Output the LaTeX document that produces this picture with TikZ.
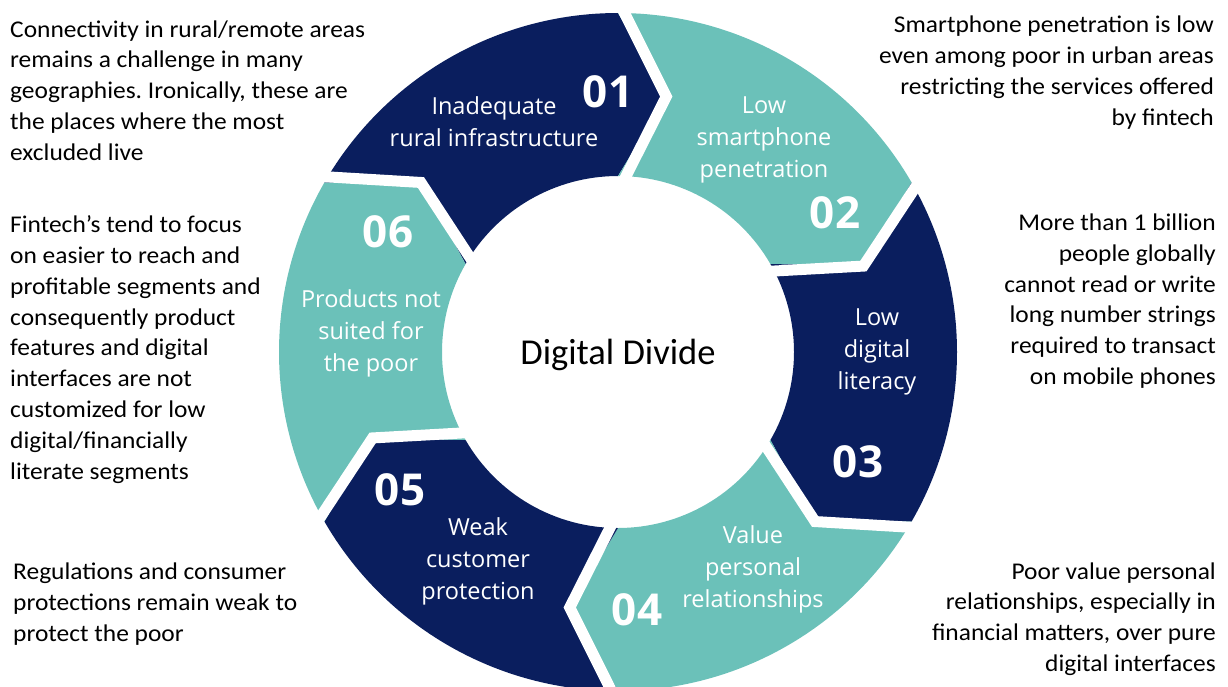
\documentclass[tikz,border=0pt]{standalone}
\usepackage{fontspec}
\setmainfont{Carlito}
\newfontfamily\sidefont[FakeStretch=1.06]{Carlito}
\newfontfamily\segfont{Open Sans}
\usetikzlibrary{calc}
\definecolor{segdark}{HTML}{0A1E5E}
\definecolor{seglight}{HTML}{6BC1B9}
\newcommand\ringseg[2]{%
  \pgfmathsetmacro\aend{#1-60}%
  \fill[#2] ($(C)+(#1:339pt)$) arc[start angle=#1, end angle=\aend, radius=339pt]
    -- ($(C)+(\aend-10.7:260pt)$) -- ($(C)+(\aend:176pt)$)
    arc[start angle=\aend, end angle=#1, radius=176pt]
    -- ($(C)+(#1-10.7:260pt)$) -- cycle;}
\newcommand\ringgap[1]{%
  \draw[gapline] ($(C)+(#1:352pt)$) -- ($(C)+(#1-10.7:260pt)$) -- ($(C)+(#1:160pt)$);}
\tikzset{
  gapline/.style={white, line width=11pt, line join=miter},
  seglabel/.style={text=white, align=center, inner sep=0pt, font=\segfont\fontsize{23.5}{32}\selectfont},
  segnum/.style={text=white, inner sep=0pt, font=\segfont\bfseries\fontsize{44}{44}\selectfont},
  sidetext/.style={text=black, inner sep=0pt, font=\sidefont\frenchspacing\fontsize{24}{30.8}\selectfont},
}
\begin{document}
\begin{tikzpicture}[x=1pt,y=1pt]
\useasboundingbox (0,0) rectangle (1228,-686);
\coordinate (C) at (618,-352);
\ringseg{150}{segdark}
\ringseg{90}{seglight}
\ringseg{30}{segdark}
\ringseg{-30}{seglight}
\ringseg{-90}{segdark}
\ringseg{-150}{seglight}
\foreach \a in {150,90,30,-30,-90,-150} {\ringgap{\a}}
% numbers
\node[segnum] (n1) at (608,-92) {01};
\node[segnum] (n2) at (835,-213) {02};
\node[segnum] (n3) at (858,-462) {03};
\node[segnum] (n4) at (637,-610) {04};
\node[segnum] (n5) at (400,-490) {05};
\node[segnum] (n6) at (388,-232) {06};
% labels
\node[seglabel] (l1) at (494,-122) {Inadequate\\rural infrastructure};
\node[seglabel] (l2) at (764,-140) {Low\\smartphone\\penetration};
\node[seglabel] (l3) at (877,-352) {Low\\digital\\literacy};
\node[seglabel] (l4) at (753,-569) {Value\\personal\\relationships};
\node[seglabel] (l5) at (478,-561) {Weak\\customer\\protection};
\node[seglabel] (l6) at (371,-333) {Products not\\suited for\\the poor};
\node[inner sep=0pt, font=\fontsize{36.5}{40}\selectfont] (dd) at (618,-355) {Digital Divide};
% side texts
\node[sidetext, anchor=west, align=left] (t1) at (10,-90.5) {Connectivity in rural/remote areas\\remains a challenge in many\\geographies. Ironically, these are\\the places where the most\\excluded live};
\node[sidetext, anchor=west, align=left] (t6) at (10,-349.5) {Fintech’s tend to focus\\on easier to reach and\\profitable segments and\\consequently product\\features and digital\\interfaces are not\\customized for low\\digital/financially\\literate segments};
\node[sidetext, anchor=west, align=left] (t5) at (13,-604) {Regulations and consumer\\protections remain weak to\\protect the poor};
\node[sidetext, anchor=east, align=right] (t2) at (1214,-72.5) {Smartphone penetration is low\\even among poor in urban areas\\restricting the services offered\\by fintech};
\node[sidetext, anchor=east, align=right] (t3) at (1216,-301) {More than 1 billion\\people globally\\cannot read or write\\long number strings\\required to transact\\on mobile phones};
\node[sidetext, anchor=east, align=right] (t4) at (1216,-619) {Poor value personal\\relationships, especially in\\financial matters, over pure\\digital interfaces};
\end{tikzpicture}
\end{document}
